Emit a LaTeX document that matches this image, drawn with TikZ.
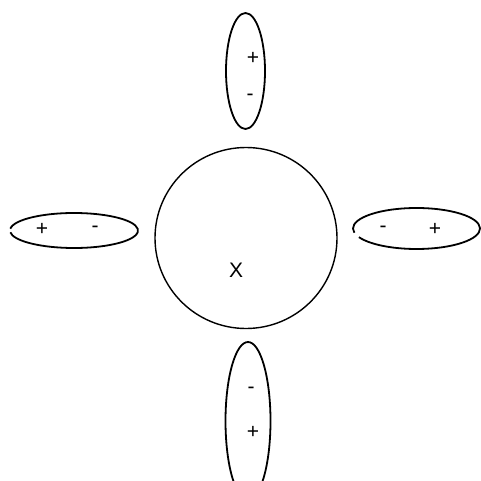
\documentclass[tikz,border=0pt]{standalone}
\usepackage{fontspec}
\setmainfont{Liberation Sans}
\usetikzlibrary{positioning}
\tikzset{
  charge/.style={font=\fontsize{21}{24}\selectfont, inner sep=0pt},
  dipole/.style={draw=black, line width=1.8pt},
  body/.style={draw=black, line width=1.4pt}
}
\begin{document}
\begin{tikzpicture}[x=1pt,y=-1pt]
  \useasboundingbox (0,0) rectangle (481,481);
  \clip (0,0) rectangle (481,481);
  % central body
  \draw[body] (246,238) ellipse [x radius=91, y radius=90.5];
  \node[charge] (xlab) at (236,270) {X};
  % top dipole
  \draw[dipole] (245.5,71) ellipse [x radius=19.5, y radius=58];
  \node[charge] (tplus) at (253,58) {+};
  \node[charge] (tminus) at (250,97) {-};
  % bottom dipole
  \draw[dipole] (248,421) ellipse [x radius=22.5, y radius=79];
  \node[charge] (bminus) at (251,390) {-};
  \node[charge] (bplus) at (253,432) {+};
  % left dipole
  \draw[dipole] (74,230.5) ++(186:64 and 17.5)
    arc [start angle=186, end angle=534, x radius=64, y radius=17.5];
  \node[charge] (lplus) at (42,229) {+};
  \node[charge] (lminus) at (95,229) {-};
  % right dipole
  \draw[dipole] (416.5,228.5) ++(168:63.5 and 20.5)
    arc [start angle=168, end angle=515, x radius=63.5, y radius=20.5];
  \node[charge] (rminus) at (383,229) {-};
  \node[charge] (rplus) at (435,229) {+};
\end{tikzpicture}
\end{document}
